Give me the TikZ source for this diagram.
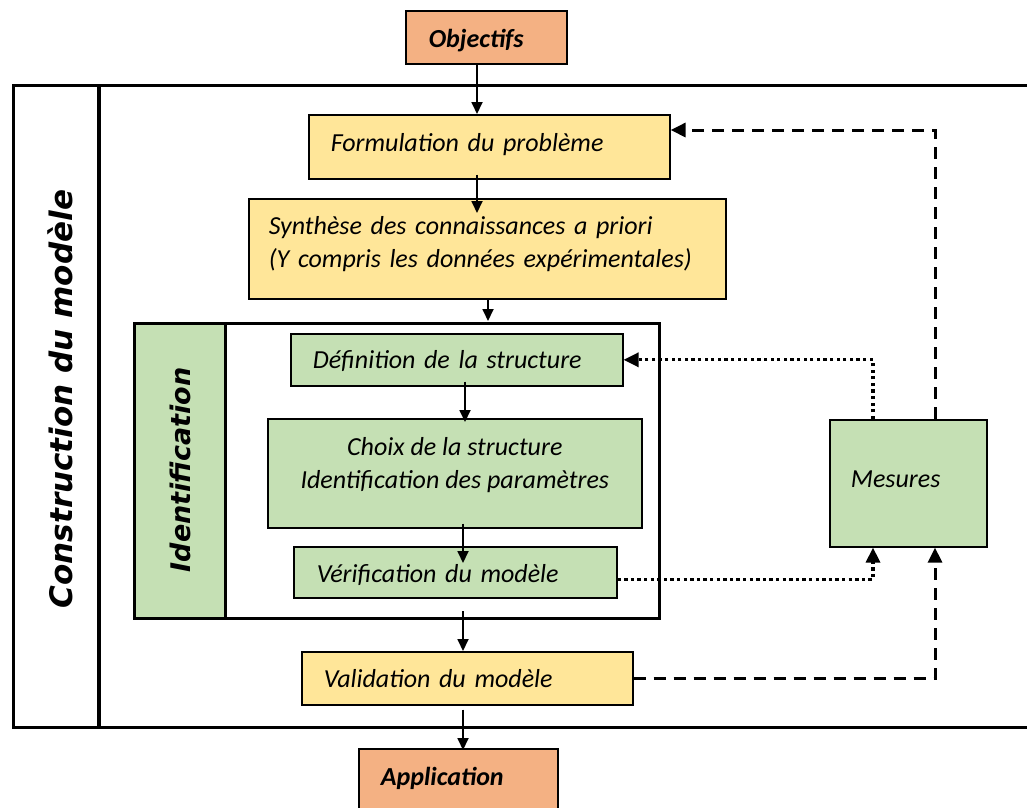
\documentclass[tikz,border=0pt]{standalone}
\usepackage{fontspec}
\setmainfont{Carlito}
\newfontfamily\vfont{DejaVu Sans}
\usetikzlibrary{arrows.meta,calc}
\definecolor{orangeF}{HTML}{F4B183}
\definecolor{yellowF}{HTML}{FFE699}
\definecolor{greenF}{HTML}{C5E0B4}
\newcommand{\up}[2]{\raisebox{#1}[\height][\depth]{#2}}
\begin{document}
\begin{tikzpicture}[x=1pt,y=-1pt,
  box/.style={draw=black,line width=1.6pt,anchor=north west,inner sep=0pt,
    font=\fontsize{26}{33}\selectfont\itshape},
  bbox/.style={box,font=\fontsize{26}{33}\selectfont\bfseries\itshape},
  frame/.style={draw=black,line width=3.2pt,anchor=north west,inner sep=0pt},
  arr/.style={line width=1.8pt,-{Triangle[length=12pt,width=11pt]}},
  dsh/.style={line width=3pt,dash pattern=on 12pt off 8pt,-{Triangle[length=15pt,width=14pt]}},
  dtt/.style={line width=3.3pt,dash pattern=on 3.3pt off 3.3pt,-{Triangle[length=15pt,width=14pt]}},
  vlab/.style={rotate=90,font=\vfont\bfseries\itshape\fontsize{31}{37}\selectfont}]
\useasboundingbox (0,0) rectangle (1027,807);
% frames
\node[frame,minimum width=1040pt,minimum height=642pt] (outer) at (12,84) {};
\draw[line width=3.2pt] ($(outer.north west)+(87,0)$) -- ($(outer.south west)+(87,0)$);
\node[vlab] (constr) at (60,399) {Construction du modèle};
\node[frame,minimum width=525pt,minimum height=295pt] (idframe) at (133,322) {};
\node[frame,fill=greenF,minimum width=91pt,minimum height=295pt] (idstrip) at (133,322) {};
\node[vlab,font=\vfont\bfseries\itshape\fontsize{27}{32}\selectfont] (idlab) at (180,470) {Identification};
% boxes
\node[bbox,fill=orangeF,minimum width=161pt,minimum height=53pt,inner xsep=23pt,text width=115pt,align=left] (obj) at (405,10) {\up{-3pt}{Objectifs}};
\node[box,fill=yellowF,minimum width=361pt,minimum height=64pt,inner xsep=22pt,text width=317pt,align=left] (form) at (308,114) {\up{2pt}{Formulation du problème}};
\node[box,fill=yellowF,minimum width=477pt,minimum height=100pt,inner xsep=20pt,text width=437pt,align=left] (synth) at (248,198) {\up{4pt}{\begin{tabular}{@{}l@{}}Synthèse des connaissances a priori\\(Y compris les données expérimentales)\end{tabular}}};
\node[box,fill=greenF,minimum width=332pt,minimum height=52pt,inner xsep=22pt,text width=288pt,align=left] (def) at (290,333) {\up{-1pt}{Définition de la structure}};
\node[box,fill=greenF,minimum width=374pt,minimum height=109pt,align=center] (choix) at (267,418) {\up{8pt}{\begin{tabular}{@{}c@{}}Choix de la structure\\Identification des paramètres\end{tabular}}};
\node[box,fill=greenF,minimum width=323pt,minimum height=51pt,inner xsep=23pt,text width=277pt,align=left] (verif) at (293,546) {\up{-3pt}{Vérification du modèle}};
\node[box,fill=yellowF,minimum width=331pt,minimum height=53pt,inner xsep=22pt,text width=287pt,align=left] (valid) at (301,651) {Validation du modèle};
\node[bbox,fill=orangeF,minimum width=199pt,minimum height=64pt,inner xsep=22pt,text width=155pt,align=left] (app) at (358,748) {\up{2pt}{Application}};
\node[box,fill=greenF,minimum width=157pt,minimum height=127pt,inner xsep=21pt,text width=115pt,align=left] (mes) at (829,419) {\up{4pt}{Mesures}};
% helper coordinates
\coordinate (xa) at (477,0);
\coordinate (xb) at (488,0);
\coordinate (xc) at (465,0);
\coordinate (xd) at (463,0);
\coordinate (xm1) at (873,0);
\coordinate (xm2) at (935,0);
\coordinate (yf) at (0,130);
% solid arrows
\draw[arr] (xa |- obj.south) -- (xa |- form.north);
\draw[arr] ($(xa |- form.south)+(0,-5)$) -- ($(xa |- synth.north)+(0,15)$);
\draw[arr] (xb |- synth.south) -- ($(xb |- idframe.north)+(0,-1)$);
\draw[arr] ($(xc |- def.south)+(0,-5)$) -- ($(xc |- choix.north)+(0,4)$);
\draw[arr] ($(xd |- choix.south)+(0,-5)$) -- ($(xd |- verif.north)+(0,17)$);
\draw[arr] ($(xd |- idframe.south)+(0,-9)$) -- (xd |- valid.north);
\draw[arr] ($(xd |- valid.south)+(0,4)$) -- ($(xd |- app.north)+(0,2)$);
% feedback
\draw[dsh] (xm2 |- mes.north) -- (xm2 |- yf) -- (form.east |- yf);
\draw[dtt] (xm1 |- mes.north) |- (def.east);
\draw[dtt] ($(verif.east)+(0,7)$) -| (xm1 |- mes.south);
\draw[dsh] (valid.east) -| (xm2 |- mes.south);
\end{tikzpicture}
\end{document}
